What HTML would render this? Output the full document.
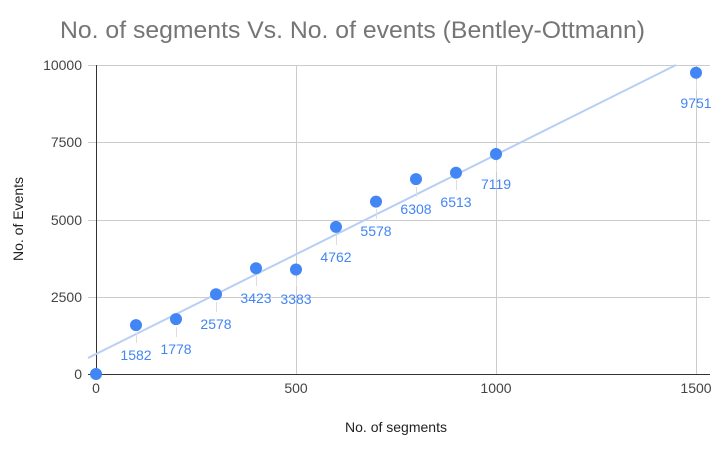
<!DOCTYPE html>
<html><head><style>body{margin:0;background:#fff}svg{display:block;font-family:"Liberation Sans",Arial,sans-serif}</style></head><body>
<svg width="720" height="460" viewBox="0 0 720 460">
<rect width="720" height="460" fill="#fff"/>
<text x="60" y="38" font-size="24" fill="#757575" textLength="585" lengthAdjust="spacingAndGlyphs">No. of segments Vs. No. of events (Bentley-Ottmann)</text>
<g stroke="#cccccc" stroke-width="1">
<line x1="88" y1="65.5" x2="710" y2="65.5"/>
<line x1="88" y1="142.5" x2="710" y2="142.5"/>
<line x1="88" y1="220.5" x2="710" y2="220.5"/>
<line x1="88" y1="297.5" x2="710" y2="297.5"/>
<line x1="296.5" y1="65" x2="296.5" y2="374"/>
<line x1="496.5" y1="65" x2="496.5" y2="374"/>
<line x1="696.5" y1="65" x2="696.5" y2="374"/>
</g>
<line x1="96.5" y1="65" x2="96.5" y2="375" stroke="#333" stroke-width="1"/>
<line x1="88" y1="374.5" x2="710" y2="374.5" stroke="#333" stroke-width="1"/>
<g font-size="14" fill="#444" text-anchor="end">
<text x="82" y="70">10000</text><text x="82" y="147">7500</text><text x="82" y="225">5000</text><text x="82" y="302">2500</text><text x="82" y="379">0</text>
</g>
<g font-size="14" fill="#444" text-anchor="middle">
<text x="96" y="393">0</text><text x="296" y="393">500</text><text x="496" y="393">1000</text><text x="696" y="393">1500</text>
<text x="396" y="432" font-size="14" fill="#222">No. of segments</text>
</g>
<text transform="translate(23,219) rotate(-90)" font-size="14" fill="#222" text-anchor="middle">No. of Events</text>
<line x1="88" y1="358" x2="676" y2="65" stroke="#b7cff5" stroke-width="2"/>
<g id="pts" fill="#4285f4">
<circle cx="96" cy="374" r="6"/>
<circle cx="136" cy="325.1" r="6"/>
<circle cx="176" cy="319.1" r="6"/>
<circle cx="216" cy="294.3" r="6"/>
<circle cx="256" cy="268.2" r="6"/>
<circle cx="296" cy="269.5" r="6"/>
<circle cx="336" cy="226.9" r="6"/>
<circle cx="376" cy="201.6" r="6"/>
<circle cx="416" cy="179.1" r="6"/>
<circle cx="456" cy="172.7" r="6"/>
<circle cx="496" cy="154.0" r="6"/>
<circle cx="696" cy="72.7" r="6"/>
</g>
<g stroke="#dddddd" stroke-width="1">
<line x1="136.5" y1="333" x2="136.5" y2="343"/><line x1="176.5" y1="327" x2="176.5" y2="337"/><line x1="216.5" y1="302" x2="216.5" y2="312"/><line x1="256.5" y1="276" x2="256.5" y2="286"/><line x1="296.5" y1="277" x2="296.5" y2="287"/><line x1="336.5" y1="235" x2="336.5" y2="245"/><line x1="376.5" y1="209" x2="376.5" y2="219"/><line x1="416.5" y1="187" x2="416.5" y2="197"/><line x1="456.5" y1="180" x2="456.5" y2="190"/><line x1="496.5" y1="162" x2="496.5" y2="172"/><line x1="696.5" y1="80" x2="696.5" y2="90"/>
</g>
<g font-size="14" fill="#4285f4" text-anchor="middle">
<text x="136" y="360">1582</text><text x="176" y="354">1778</text><text x="216" y="329">2578</text><text x="256" y="303">3423</text><text x="296" y="304">3383</text><text x="336" y="262">4762</text><text x="376" y="236">5578</text><text x="416" y="214">6308</text><text x="456" y="207">6513</text><text x="496" y="189">7119</text><text x="696" y="108">9751</text>
</g>
</svg>
</body></html>
